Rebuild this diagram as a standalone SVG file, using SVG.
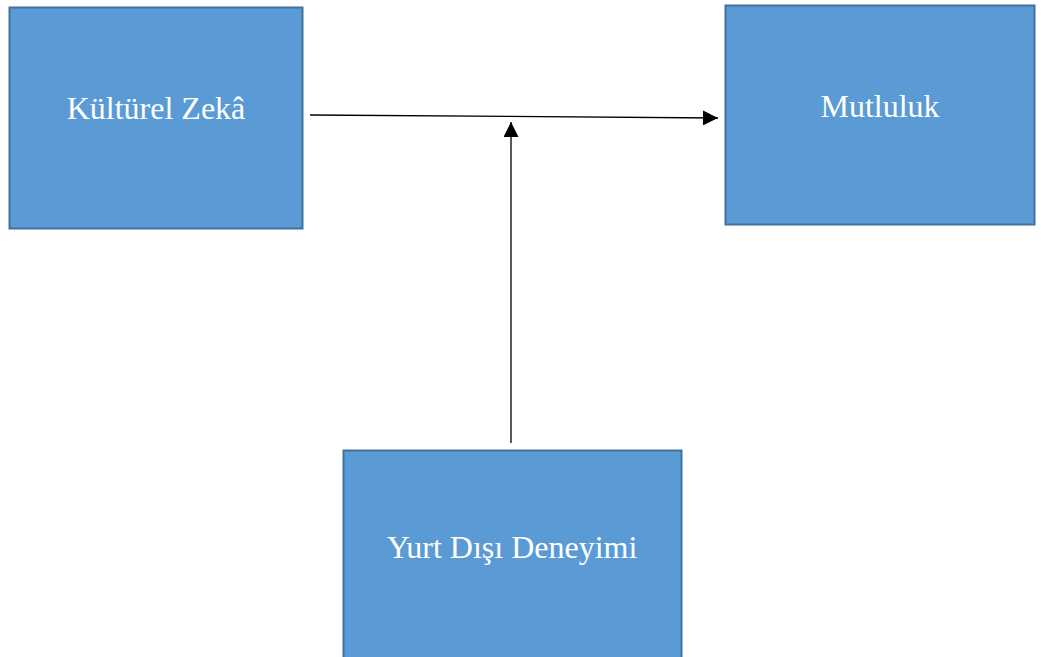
<svg xmlns="http://www.w3.org/2000/svg" width="1041" height="657" viewBox="0 0 1041 657">
<style>
.box{fill:#5b9bd5;stroke:#41719c;stroke-width:2}
.lbl{fill:#ffffff;font-family:"Liberation Serif","Times New Roman",serif;font-size:32px;text-anchor:middle}
.conn{stroke:#000;stroke-width:1.3;fill:none}
</style>
<defs>
<marker id="ah" viewBox="0 0 10 10" refX="10" refY="5" markerWidth="16" markerHeight="15" markerUnits="userSpaceOnUse" orient="auto">
<path d="M0,0 L10,5 L0,10 z" fill="#000"/>
</marker>
</defs>
<rect width="1041" height="657" fill="#fff"/>
<g id="node-kultur">
<rect class="box" x="9.5" y="7.5" width="293" height="221"/>
<text class="lbl" x="156" y="119">Kültürel Zekâ</text>
</g>
<g id="node-mutluluk">
<rect class="box" x="725.5" y="5.5" width="309" height="219"/>
<text class="lbl" x="880" y="117">Mutluluk</text>
</g>
<g id="node-yurt">
<rect class="box" x="343.5" y="450.5" width="338" height="220"/>
<text class="lbl" x="512" y="558">Yurt Dışı Deneyimi</text>
</g>
<g id="connectors">
<line class="conn" x1="310" y1="115" x2="718" y2="118" marker-end="url(#ah)"/>
<line class="conn" x1="511" y1="443" x2="511" y2="122" marker-end="url(#ah)"/>
</g>
</svg>
